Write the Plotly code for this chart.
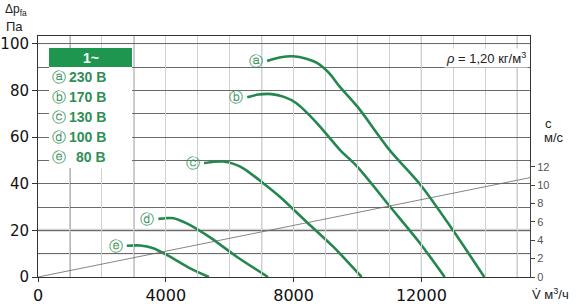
import plotly.graph_objects as go

# ---------------- data ----------------
V_A = [7170, 7600, 7980, 8400, 8730, 9100, 9450, 10000, 11000, 12000, 13000, 13970]
P_A = [92.6, 94.2, 94.6, 93.6, 91.8, 87.6, 81.5, 73.0, 54.5, 39.0, 19.8, 0]
V_B = [6550, 6900, 7310, 7700, 8090, 8730, 9450, 10000, 11030, 11950, 12730]
P_B = [77.0, 78.2, 78.4, 77.2, 74.5, 66.0, 54.5, 47.2, 30.0, 14.6, 0]
V_C = [5200, 5500, 5800, 6100, 6425, 7050, 7570, 8400, 9240, 10130]
P_C = [48.8, 49.4, 49.5, 48.6, 46.6, 40.2, 34.4, 23.7, 13.0, 0]
V_D = [3770, 4000, 4240, 4655, 5385, 6220, 7200]
P_D = [24.9, 25.2, 25.2, 23.0, 17.0, 8.7, 0]
V_E = [2780, 3200, 3610, 4130, 4760, 5350]
P_E = [13.4, 13.5, 12.3, 8.7, 3.7, 0]

CURVES = [("ⓐ", "230 В", V_A, P_A), ("ⓑ", "170 В", V_B, P_B), ("ⓒ", "130 В", V_C, P_C),
          ("ⓓ", "100 В", V_D, P_D), ("ⓔ", "80 В", V_E, P_E)]

V_VEL = [0, 15400]      # flow for velocity line
C_VEL = [0, 10.8]       # air velocity, m/s

X_TICKS = [0, 4000, 8000, 12000]
X_TICKTEXT = ["0", "4000", "8000", "12000"]
Y_TICKS = [0, 20, 40, 60, 80, 100]
C_TICKS = [0, 2, 4, 6, 8, 10, 12]
DARK_V = [1000, 3000, 7000, 10000, 12000]
MED_V = [15000]

# ---------------- layout helpers ----------------
W, H = 576, 304
L, R, T, B = 38, 46, 36, 27
PW, PH = W - L - R, H - T - B

def px(x):
    return (x - L) / PW

def py(y):
    return (H - B - y) / PH

GREEN = "#23874f"
TXT_GREEN = "#2f8f55"
HEAD_GREEN = "#1f9650"
LIGHT = "#cfcfcf"
DARK = "#6a6a6a"

fig = go.Figure()

for letter, volt, v, p in CURVES:
    fig.add_trace(go.Scatter(x=v, y=p, mode="lines", line=dict(color=GREEN, width=2.6, shape="spline", smoothing=0.8),
                             hoverinfo="skip", showlegend=False))
    fig.add_annotation(x=v[0], y=p[0], xref="x", yref="y", text=letter, showarrow=False,
                       xanchor="right", yanchor="middle", xshift=-2,
                       font=dict(family="DejaVu Sans", size=14, color=TXT_GREEN))

fig.add_trace(go.Scatter(x=V_VEL, y=C_VEL, yaxis="y2", mode="lines",
                         line=dict(color="#666666", width=0.8), hoverinfo="skip", showlegend=False))

for v in DARK_V:
    fig.add_vline(x=v, line_color="#5c5c5c", line_width=1, layer="below")
for v in MED_V:
    fig.add_vline(x=v, line_color="#9a9a9a", line_width=1, layer="below")
fig.add_hline(y=20, line_color="#d4d4d4", line_width=3, layer="below")
fig.add_hline(y=100, line_color=LIGHT, line_width=1, layer="below")
fig.add_hline(y=10, line_color="#9a9a9a", line_width=1, layer="below")

fig.update_layout(
    width=W, height=H, margin=dict(l=L, r=R, t=T, b=B, autoexpand=False),
    paper_bgcolor="white", plot_bgcolor="rgba(0,0,0,0)",
    xaxis=dict(range=[0, 15400], tickmode="array", tickvals=X_TICKS, ticktext=X_TICKTEXT,
               ticks="outside", ticklen=4, automargin=False,
               tickcolor="#333", showline=True, linecolor="#333", linewidth=1, mirror=True,
               showgrid=True, gridcolor=LIGHT, gridwidth=1, zeroline=False,
               minor=dict(dtick=1000, tick0=0, showgrid=True, gridcolor=LIGHT, gridwidth=1, ticks=""),
               tickfont=dict(family="DejaVu Sans", size=16, color="#111")),
    yaxis=dict(range=[0, 103.3], tickmode="array", tickvals=Y_TICKS, ticks="outside", ticklen=5,
               automargin=False,
               tickcolor="#333", showline=True, linecolor="#333", linewidth=1, mirror=True,
               showgrid=True, gridcolor=DARK, gridwidth=1, zeroline=False,
               minor=dict(dtick=10, tick0=0, showgrid=True, gridcolor=DARK, gridwidth=1, ticks=""),
               tickfont=dict(family="DejaVu Sans", size=15, color="#111")),
    yaxis2=dict(domain=[0, 0.477], range=[0, 12.5], anchor="x", side="right", tickmode="array",
                tickvals=C_TICKS, ticks="outside", ticklen=4, tickcolor="#444", showline=True,
                automargin=False,
                linecolor="#444", showgrid=False, zeroline=False,
                tickfont=dict(family="Liberation Sans", size=11, color="#555")),
)

# legend box
fig.add_shape(type="rect", xref="paper", yref="paper", x0=px(49), x1=px(132), y0=py(168), y1=py(67),
              fillcolor="white", line=dict(width=0), layer="above")
fig.add_shape(type="rect", xref="paper", yref="paper", x0=px(49), x1=px(132), y0=py(67), y1=py(48),
              fillcolor=HEAD_GREEN, line=dict(width=0), layer="above")
fig.add_annotation(x=px(90.5), y=py(57.5), xref="paper", yref="paper", text="<b>1~</b>", showarrow=False,
                   xanchor="center", yanchor="middle", font=dict(family="Liberation Sans", size=14, color="white"))
for i, (letter, volt, v, p) in enumerate(CURVES):
    yy = py(77 + 20 * i)
    fig.add_annotation(x=px(59), y=yy, xref="paper", yref="paper", text=letter, showarrow=False,
                       xanchor="center", yanchor="middle",
                       font=dict(family="DejaVu Sans", size=14, color=TXT_GREEN))
    fig.add_annotation(x=px(108), y=yy, xref="paper", yref="paper", text="<b>" + volt + "</b>", showarrow=False,
                       xanchor="right", yanchor="middle",
                       font=dict(family="Liberation Sans", size=14, color=TXT_GREEN))

# density
fig.add_annotation(x=px(528), y=py(58), xref="paper", yref="paper", text="<i>ρ</i> = 1,20 кг/м<sup>3</sup>",
                   showarrow=False, xanchor="right", yanchor="middle", bgcolor="white",
                   font=dict(family="Liberation Sans", size=13, color="#222"))

# axis titles
fig.add_annotation(x=px(3), y=py(10), xref="paper", yref="paper", text="Δp<sub>fa</sub>", showarrow=False,
                   xanchor="left", yanchor="middle", font=dict(family="Liberation Sans", size=12, color="#222"))
fig.add_annotation(x=px(4), y=py(27), xref="paper", yref="paper", text="Па", showarrow=False,
                   xanchor="left", yanchor="middle", font=dict(family="Liberation Sans", size=13, color="#222"))
fig.add_annotation(x=px(548), y=py(123), xref="paper", yref="paper", text="c", showarrow=False,
                   xanchor="center", yanchor="middle", font=dict(family="Liberation Sans", size=13, color="#222"))
fig.add_annotation(x=px(554), y=py(137), xref="paper", yref="paper", text="м/с", showarrow=False,
                   xanchor="center", yanchor="middle", font=dict(family="Liberation Sans", size=13, color="#222"))
fig.add_annotation(x=px(530), y=py(294), xref="paper", yref="paper", text="V̇ м<sup>3</sup>/ч", showarrow=False,
                   xanchor="left", yanchor="middle", font=dict(family="Liberation Sans", size=13, color="#222"))

fig.write_html("out.html")
